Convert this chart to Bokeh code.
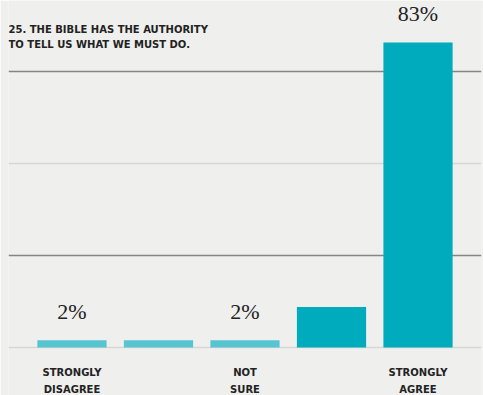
from bokeh.plotting import figure
from bokeh.models import Range1d, ColumnDataSource, FixedTicker, Grid, Label
from bokeh.core.properties import value
from bokeh.embed import file_html
from bokeh.resources import INLINE

# ---- data ----
categories = ["Strongly disagree", "Disagree", "Not sure", "Agree", "Strongly agree"]
shown_labels = ["STRONGLY\nDISAGREE", "", "NOT\nSURE", "", "STRONGLY\nAGREE"]
values = [2, 2, 2, 11, 83]
value_labels = ["2%", "", "2%", "", "83%"]
title_text = "25. THE BIBLE HAS THE AUTHORITY\nTO TELL US WHAT WE MUST DO."

BG = "#efefed"
LIGHT = "#56c5d1"
DARK = "#00abbd"

xs = list(range(len(categories)))
colors = [LIGHT if v < 5 else DARK for v in values]

src = ColumnDataSource(dict(x=xs, top=values, color=colors,
                            vlab=value_labels, clab=shown_labels,
                            zero=[0] * len(xs)))

p = figure(width=483, height=395, output_backend="svg", toolbar_location=None,
           x_range=Range1d(-0.734, 4.734), y_range=Range1d(-13.06, 94.42),
           min_border=0, min_border_left=8, min_border_right=2,
           min_border_top=0, min_border_bottom=0)
p.background_fill_color = BG
p.border_fill_color = BG
p.outline_line_color = None
p.xaxis.visible = False
p.yaxis.visible = False
p.xgrid.visible = False

# grid lines: dark at 25/75, light at 0/50
p.ygrid.ticker = FixedTicker(ticks=[25, 75])
p.ygrid.grid_line_color = "#858585"
p.ygrid.grid_line_width = 1.3
p.ygrid.grid_line_alpha = 1.0
light_grid = Grid(dimension=1, ticker=FixedTicker(ticks=[0, 50]),
                  grid_line_color="#d6d6d4", grid_line_width=1.5)
p.add_layout(light_grid)

p.vbar(x="x", top="top", bottom=0, width=0.8, color="color", line_color=None, source=src)

# value labels
p.text(x="x", y="top", text="vlab", source=src, text_align="center",
       text_baseline="middle", y_offset=-29,
       text_font=value("Liberation Serif"), text_font_size="22px",
       text_color="#222222")

# category labels
p.text(x="x", y="zero", text="clab", source=src, text_align="center",
       text_baseline="top", y_offset=19, text_line_height=1.6,
       text_font=value("DejaVu Sans"), text_font_style="bold",
       text_font_size="10px", text_color="#222222")

title = Label(x=0, y=372, x_units="screen", y_units="screen", text=title_text,
              text_font="DejaVu Sans", text_font_style="bold", text_font_size="10px",
              text_color="#222222", text_baseline="top", text_line_height=1.4)
p.add_layout(title)

open("out.html", "w").write(file_html(p, INLINE))
